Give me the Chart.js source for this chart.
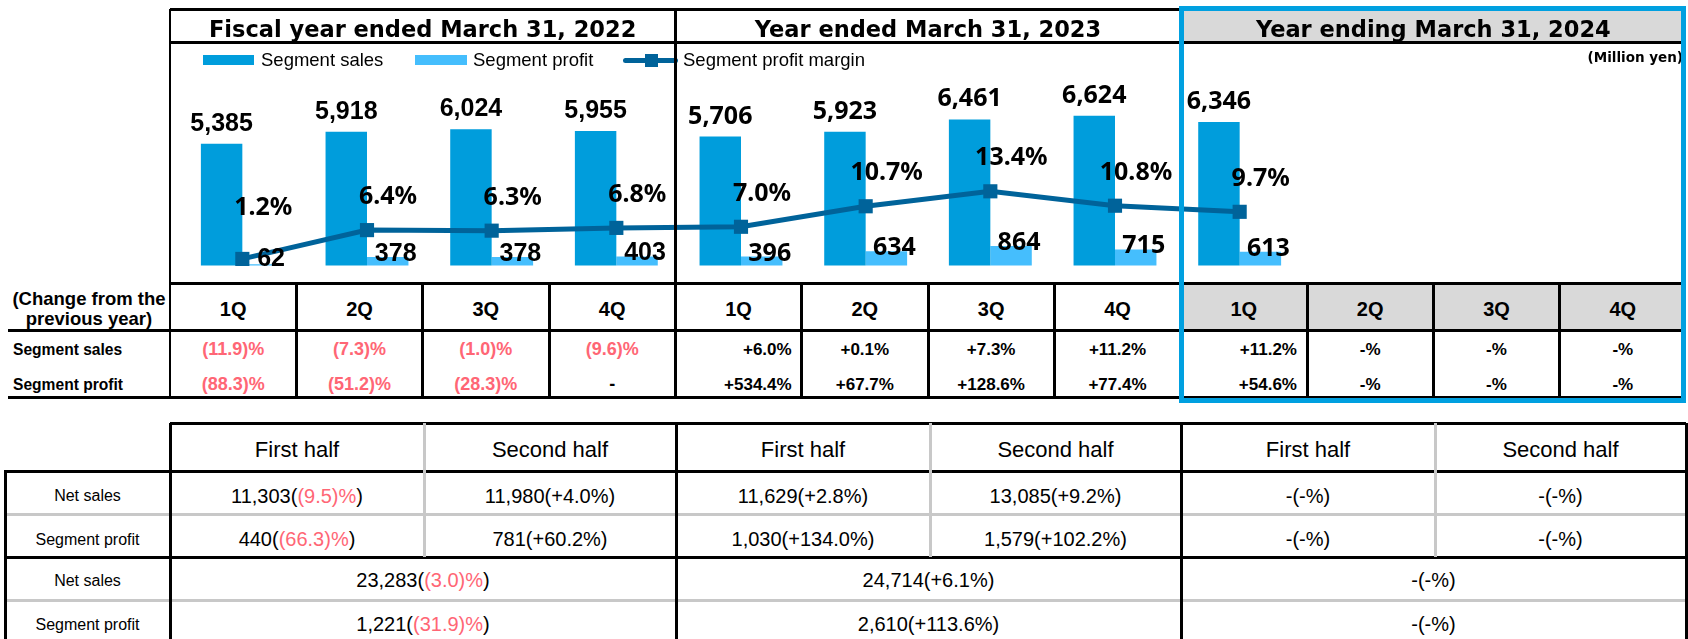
<!DOCTYPE html>
<html>
<head>
<meta charset="utf-8">
<script src="https://cdn.jsdelivr.net/npm/chart.js@4.4.0/dist/chart.umd.min.js"></script>
<style>
html, body { margin: 0; padding: 0; background: #fff; }
body { width: 1688px; height: 639px; position: relative; overflow: hidden; font-family: 'Liberation Sans', Arial, sans-serif; color: #000; }
.a { position: absolute; }
.t { position: absolute; display: flex; align-items: center; white-space: nowrap; }
#chartWrap { position: absolute; left: 170px; top: 43px; width: 1516px; height: 239px; }
.red { color: #ff6675; }
</style>
</head>
<body>
<div id="chartWrap"><canvas id="segCanvas" width="1516" height="239"></canvas></div>
<script>
// data
const years = ['Fiscal year ended March 31, 2022', 'Year ended March 31, 2023', 'Year ending March 31, 2024'];
const quarters = ['1Q', '2Q', '3Q', '4Q', '1Q', '2Q', '3Q', '4Q', '1Q', '2Q', '3Q', '4Q'];
const segmentSales = [5385, 5918, 6024, 5955, 5706, 5923, 6461, 6624, 6346, null, null, null];
const segmentProfit = [62, 378, 378, 403, 396, 634, 864, 715, 613, null, null, null];
const profitMargin = [1.2, 6.4, 6.3, 6.8, 7.0, 10.7, 13.4, 10.8, 9.7, null, null, null];
const salesChange = ['(11.9)%', '(7.3)%', '(1.0)%', '(9.6)%', '+6.0%', '+0.1%', '+7.3%', '+11.2%', '+11.2%', '-%', '-%', '-%'];
const profitChange = ['(88.3)%', '(51.2)%', '(28.3)%', '-', '+534.4%', '+67.7%', '+128.6%', '+77.4%', '+54.6%', '-%', '-%', '-%'];

const halfLabels = ['First half', 'Second half', 'First half', 'Second half', 'First half', 'Second half'];
const halfSales = [11303, 11980, 11629, 13085, null, null];
const halfSalesChange = ['(9.5)%', '+4.0%', '+2.8%', '+9.2%', '-%', '-%'];
const halfProfit = [440, 781, 1030, 1579, null, null];
const halfProfitChange = ['(66.3)%', '+60.2%', '+134.0%', '+102.2%', '-%', '-%'];
const yearSales = [23283, 24714, null];
const yearSalesChange = ['(3.0)%', '+6.1%', '-%'];
const yearProfit = [1221, 2610, null];
const yearProfitChange = ['(31.9)%', '+113.6%', '-%'];

const salesColor = '#009ddc';
const profitColor = '#45befd';
const marginColor = '#00639a';
const boxBlue = '#00a0e0';
const greyLine = '#c8c8c8';
const verdana = '"DejaVu Sans", Verdana, sans-serif';
const arial = '"Liberation Sans", Arial, sans-serif';
const noto = '"Noto Sans", "Open Sans", sans-serif';

// layout helpers
function el(cls, css, html) {
  const d = document.createElement('div');
  d.className = cls;
  d.style.cssText = css;
  if (html !== undefined) d.innerHTML = html;
  document.body.appendChild(d);
  return d;
}
function hline(x1, x2, y, color = '#000', w = 3) {
  el('a', `left:${x1}px;top:${y - w / 2}px;width:${x2 - x1}px;height:${w}px;background:${color}`);
}
function vline(x, y1, y2, color = '#000', w = 3) {
  el('a', `left:${x - w / 2}px;top:${y1}px;width:${w}px;height:${y2 - y1}px;background:${color}`);
}
function text(x, cy, w, html, css, align = 'center') {
  const jc = align === 'left' ? 'flex-start' : align === 'right' ? 'flex-end' : 'center';
  el('t', `left:${x}px;top:${cy - 25}px;width:${w}px;height:50px;justify-content:${jc};${css}`, html);
}
const fmt = v => v == null ? '-' : v.toLocaleString('en-US');
const chg = c => c.startsWith('(') ? `<span class="red">${c}</span>` : c;
const pair = (v, c) => `${fmt(v)}(${chg(c)})`;

const left = 170, right = 1686;
const colW = (right - left) / 12;
const colX = i => left + i * colW;
const secX = i => left + i * colW * 4;

// top block backgrounds
el('a', `left:${secX(2)}px;top:9px;width:${right - secX(2)}px;height:34px;background:#d9d9d9`);
el('a', `left:${secX(2)}px;top:284px;width:${right - secX(2)}px;height:46px;background:#d9d9d9`);

// year headers
years.forEach((y, i) => text(secX(i), 28.5, colW * 4, y, `font:bold 22.5px ${verdana}`));

// legend
el('a', `left:203px;top:55px;width:51px;height:10px;background:${salesColor}`);
text(261, 60, 140, 'Segment sales', `font:18.5px ${arial}`, 'left');
el('a', `left:415px;top:55px;width:52px;height:10px;background:${profitColor}`);
text(473, 60, 140, 'Segment profit', `font:18.5px ${arial}`, 'left');
el('a', `left:623px;top:57.5px;width:55px;height:5px;background:${marginColor};border-radius:3px`);
el('a', `left:645px;top:53.5px;width:13px;height:13px;background:${marginColor}`);
text(683, 60, 220, 'Segment profit margin', `font:18.5px ${arial}`, 'left');
text(1470, 57, 213, '(Million yen)', `font:bold 13.5px ${verdana}`, 'right');

// quarter table
text(6, 309, 166, '(Change from the<br>previous year)', `font:bold 18.5px/20px ${arial};text-align:center`);
quarters.forEach((q, i) => {
  text(colX(i), 309, colW, q, `font:bold 20px ${arial}`);
  const firstOfNew = i === 4 || i === 8;
  const align = firstOfNew ? 'right' : 'center';
  const pad = firstOfNew ? 'padding-right:10px;box-sizing:border-box;' : '';
  const size = i < 4 ? 18 : 17;
  text(colX(i), 349.5, colW, chg(salesChange[i]), `${pad}font:bold ${size}px ${arial}`, align);
  text(colX(i), 384.5, colW, chg(profitChange[i]), `${pad}font:bold ${size}px ${arial}`, align);
});
text(13, 349.5, 157, 'Segment sales', `font:bold 15.6px ${arial}`, 'left');
text(13, 384.5, 157, 'Segment profit', `font:bold 15.6px ${arial}`, 'left');

// top block lines
hline(left, right, 9);
hline(left, right, 42);
hline(left, right, 283);
hline(8, right, 330);
hline(8, right, 397);
vline(left, 9, 399, '#000', 2.5);
vline(secX(1), 9, 399);
for (let i = 1; i < 12; i++) vline(colX(i), 283, 399);
el('a', `left:1179px;top:6px;width:507px;height:397px;border:5px solid ${boxBlue};box-sizing:border-box`);

// half-year table
const hx = [170, 424, 676, 930, 1181, 1435, 1686];
halfLabels.forEach((h, i) => {
  const w = hx[i + 1] - hx[i];
  text(hx[i], 449.5, w, h, `font:22px ${arial}`);
  text(hx[i], 496, w, pair(halfSales[i], halfSalesChange[i]), `font:20px ${arial}`);
  text(hx[i], 539.5, w, pair(halfProfit[i], halfProfitChange[i]), `font:20px ${arial}`);
});
[0, 1, 2].forEach(i => {
  const w = hx[2 * i + 2] - hx[2 * i];
  text(hx[2 * i], 580.5, w, pair(yearSales[i], yearSalesChange[i]), `font:20px ${arial}`);
  text(hx[2 * i], 624.5, w, pair(yearProfit[i], yearProfitChange[i]), `font:20px ${arial}`);
});
['Net sales', 'Segment profit', 'Net sales', 'Segment profit'].forEach((r, i) => {
  text(5, [496, 539.5, 580.5, 624.5][i], 165, r, `font:16px ${arial}`);
});
hline(left, right, 423);
hline(5, right, 471);
hline(5, right, 514, greyLine);
hline(5, right, 557);
hline(5, right, 600, greyLine);
vline(5, 470, 639);
[424, 930, 1435].forEach(x => vline(x, 423, 557, greyLine));
[170, 676, 1181, 1686].forEach(x => vline(x, 423, 639));

// chart value labels
const valueLabels = {
  id: 'valueLabels',
  afterDatasetsDraw(chart) {
    const ctx = chart.ctx;
    const lineMeta = chart.getDatasetMeta(0);
    const salesMeta = chart.getDatasetMeta(1);
    const profitMeta = chart.getDatasetMeta(2);
    ctx.save();
    ctx.fillStyle = '#000';
    ctx.textAlign = 'center';
    ctx.textBaseline = 'alphabetic';
    segmentSales.forEach((v, i) => {
      if (v == null) return;
      const bar = salesMeta.data[i];
      ctx.font = i < 4 ? `bold 25px ${arial}` : `bold 25px ${noto}`;
      ctx.fillText(fmt(v), bar.x, bar.y - 13);
    });
    segmentProfit.forEach((v, i) => {
      if (v == null) return;
      const bar = profitMeta.data[i];
      ctx.font = i < 4 ? `bold 25px ${arial}` : `bold 25px ${noto}`;
      ctx.fillText(fmt(v), bar.x + 8, Math.min(bar.y + 4, bar.base));
    });
    profitMargin.forEach((v, i) => {
      if (v == null) return;
      const pt = lineMeta.data[i];
      const base = salesMeta.data[i].base;
      // lift the label clear of the profit value when the point sits near the axis
      const dy = base - pt.y < 20 ? -44 : -26;
      ctx.font = `bold 25px ${noto}`;
      ctx.fillText(v.toFixed(1) + '%', pt.x + 21, pt.y + dy);
    });
    ctx.restore();
  }
};

const segCanvas = document.getElementById('segCanvas');
const segChart = new Chart(segCanvas, {
  data: {
    labels: quarters,
    datasets: [{
      type: 'line',
      label: 'Segment profit margin',
      data: profitMargin,
      yAxisID: 'yMargin',
      borderColor: marginColor,
      backgroundColor: marginColor,
      borderWidth: 5,
      pointStyle: 'rect',
      pointRadius: 10,
      pointHoverRadius: 10,
      pointBorderWidth: 0,
      order: 0
    }, {
      type: 'bar',
      label: 'Segment sales',
      data: segmentSales,
      backgroundColor: salesColor,
      categoryPercentage: 0.665,
      barPercentage: 1,
      order: 1
    }, {
      type: 'bar',
      label: 'Segment profit',
      data: segmentProfit,
      backgroundColor: profitColor,
      categoryPercentage: 0.665,
      barPercentage: 1,
      order: 2
    }]
  },
  options: {
    responsive: false,
    animation: false,
    events: [],
    layout: { padding: 0 },
    plugins: { legend: { display: false }, tooltip: { enabled: false } },
    scales: {
      x: { display: false, offset: true },
      y: { display: false, min: -284, max: 9400 },
      yMargin: { display: false, min: -1.157, max: 38.35 }
    }
  },
  plugins: [valueLabels]
});
</script>
</body>
</html>
